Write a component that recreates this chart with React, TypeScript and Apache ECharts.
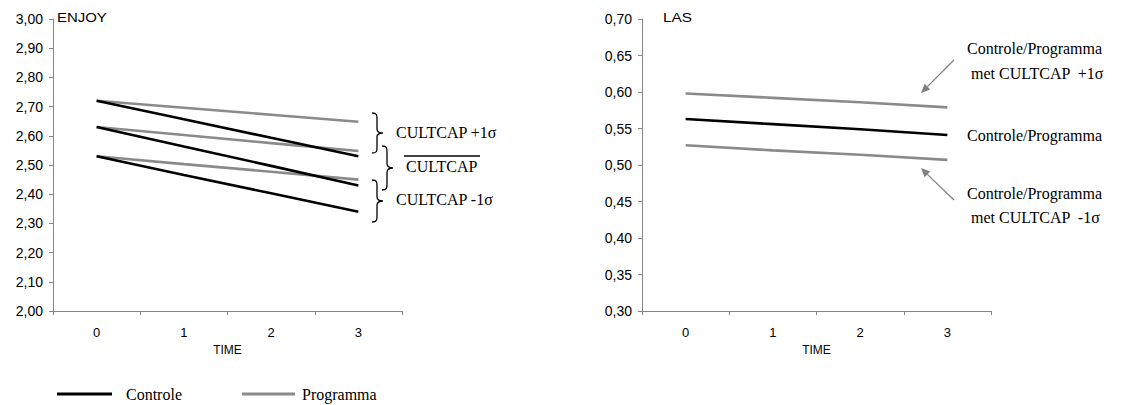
import React, { useEffect, useRef } from 'react';
import * as echarts from 'echarts';

const timeCategories = ['0', '1', '2', '3'];

// ENJOY panel
const enjoyControleHigh = [2.72, 2.657, 2.593, 2.53];
const enjoyControleMid = [2.63, 2.563, 2.497, 2.43];
const enjoyControleLow = [2.53, 2.466, 2.403, 2.34];
const enjoyProgrammaHigh = [2.72, 2.696, 2.672, 2.648];
const enjoyProgrammaMid = [2.63, 2.603, 2.575, 2.548];
const enjoyProgrammaLow = [2.53, 2.503, 2.477, 2.45];

// LAS panel
const lasHigh = [0.598, 0.592, 0.586, 0.579];
const lasMid = [0.563, 0.556, 0.549, 0.541];
const lasLow = [0.527, 0.520, 0.514, 0.507];

const enjoyTickLabels = { min: 2.0, max: 3.0, interval: 0.1 };
const lasTickLabels = { min: 0.3, max: 0.7, interval: 0.05 };

const BLACK = '#000000';
const GRAY = '#8a8a8a';
const AXIS = '#868686';
const SANS = '"Liberation Sans", Arial, sans-serif';
const SERIF = '"Liberation Serif", "Times New Roman", serif';

const braceD = 'M0,0 C5,0 5,2 5,6 L5,16 C5,19 7,20 11,20 C7,20 5,21 5,24 L5,34 C5,38 5,40 0,40';
let registered = false;

function yAxis(gridIndex: number, cfg: { min: number; max: number; interval: number }) {
  return {
    type: 'value',
    gridIndex,
    min: cfg.min,
    max: cfg.max,
    interval: cfg.interval,
    axisLine: { show: true, lineStyle: { color: AXIS, width: 1 } },
    axisTick: { show: true, length: 4, lineStyle: { color: AXIS } },
    splitLine: { show: false },
    axisLabel: {
      margin: 10,
      color: '#000',
      fontFamily: SANS,
      fontSize: 14,
      formatter: (v: number) => v.toFixed(2).replace('.', ','),
    },
  };
}

function xAxis(gridIndex: number) {
  return {
    type: 'category',
    gridIndex,
    data: timeCategories,
    boundaryGap: true,
    name: 'TIME',
    nameLocation: 'middle',
    nameGap: 29,
    nameTextStyle: { color: '#000', fontFamily: SANS, fontSize: 12 },
    axisLine: { show: true, lineStyle: { color: AXIS, width: 1 } },
    axisTick: { show: true, length: 4, lineStyle: { color: AXIS } },
    axisLabel: { margin: 15, color: '#000', fontFamily: SANS, fontSize: 13 },
    splitLine: { show: false },
  };
}

function line(name: string, data: number[], color: string, idx: number) {
  return {
    type: 'line',
    name,
    data,
    xAxisIndex: idx,
    yAxisIndex: idx,
    symbol: 'none',
    smooth: false,
    lineStyle: { color, width: 2.6 },
    itemStyle: { color },
    z: color === BLACK ? 3 : 2,
  };
}

function txt(x: number, y: number, text: string, font: string, scaleX = 1) {
  return { type: 'text', x, y, scaleX, style: { text, font, fill: '#000', verticalAlign: 'middle', align: 'left' } };
}

export default function App() {
  const ref = useRef<HTMLDivElement>(null);
  useEffect(() => {
    if (!ref.current) return;
    if (!registered) {
      echarts.graphic.registerShape('brace', echarts.graphic.extendPath(braceD, {}) as any);
      registered = true;
    }
    const chart = echarts.init(ref.current, undefined, { renderer: 'svg' });
    const serifFont = `16px ${SERIF}`;
    const arrowStyle = { stroke: '#808080', lineWidth: 1.3 };
    chart.setOption({
      animation: false,
      backgroundColor: '#ffffff',
      grid: [
        { left: 53, top: 19, width: 349, height: 292 },
        { left: 642, top: 19, width: 349, height: 292 },
      ],
      xAxis: [xAxis(0), xAxis(1)],
      yAxis: [yAxis(0, enjoyTickLabels), yAxis(1, lasTickLabels)],
      series: [
        line('Programma', enjoyProgrammaHigh, GRAY, 0),
        line('Programma', enjoyProgrammaMid, GRAY, 0),
        line('Programma', enjoyProgrammaLow, GRAY, 0),
        line('Controle', enjoyControleHigh, BLACK, 0),
        line('Controle', enjoyControleMid, BLACK, 0),
        line('Controle', enjoyControleLow, BLACK, 0),
        line('Controle/Programma met CULTCAP +1σ', lasHigh, GRAY, 1),
        line('Controle/Programma', lasMid, BLACK, 1),
        line('Controle/Programma met CULTCAP -1σ', lasLow, GRAY, 1),
      ],
      graphic: [
        txt(57, 17, 'ENJOY', `13px ${SANS}`, 1.15),
        txt(663, 17, 'LAS', `13px ${SANS}`, 1.18),
        // braces
        { type: 'brace', x: 372, y: 113, scaleX: 1, scaleY: 1.0, style: { stroke: '#000', fill: 'none', lineWidth: 1.3 } },
        { type: 'brace', x: 382, y: 146, scaleX: 1, scaleY: 1.1, style: { stroke: '#000', fill: 'none', lineWidth: 1.3 } },
        { type: 'brace', x: 372, y: 180, scaleX: 1, scaleY: 1.05, style: { stroke: '#000', fill: 'none', lineWidth: 1.3 } },
        txt(396, 132, 'CULTCAP +1σ', serifFont),
        { type: 'line', shape: { x1: 404, y1: 156, x2: 480, y2: 156 }, style: { stroke: '#000', lineWidth: 1.5 } },
        txt(406, 166, 'CULTCAP', serifFont),
        txt(396, 199, 'CULTCAP -1σ', serifFont),
        // right annotations
        txt(967, 48, 'Controle/Programma', serifFont),
        txt(971, 73, 'met CULTCAP  +1σ', serifFont),
        txt(967, 135, 'Controle/Programma', serifFont),
        txt(967, 193, 'Controle/Programma', serifFont),
        txt(971, 217, 'met CULTCAP  -1σ', serifFont),
        { type: 'line', shape: { x1: 954, y1: 60, x2: 927.4, y2: 86.6 }, style: arrowStyle },
        { type: 'polygon', shape: { points: [[921, 93], [930.2, 89.4], [924.6, 83.8]] }, style: { fill: '#808080' } },
        { type: 'line', shape: { x1: 954, y1: 200, x2: 927.4, y2: 174.4 }, style: arrowStyle },
        { type: 'polygon', shape: { points: [[921, 168], [930.2, 171.6], [924.6, 177.2]] }, style: { fill: '#808080' } },
        // legend
        { type: 'line', shape: { x1: 57, y1: 394, x2: 112, y2: 394 }, style: { stroke: BLACK, lineWidth: 3 } },
        txt(126, 394, 'Controle', serifFont),
        { type: 'line', shape: { x1: 242, y1: 394, x2: 295, y2: 394 }, style: { stroke: GRAY, lineWidth: 3 } },
        txt(302, 394, 'Programma', serifFont),
      ],
    });
    return () => chart.dispose();
  }, []);
  return <div ref={ref} style={{ position: 'absolute', left: 0, top: 0, width: 1142, height: 405 }} />;
}
